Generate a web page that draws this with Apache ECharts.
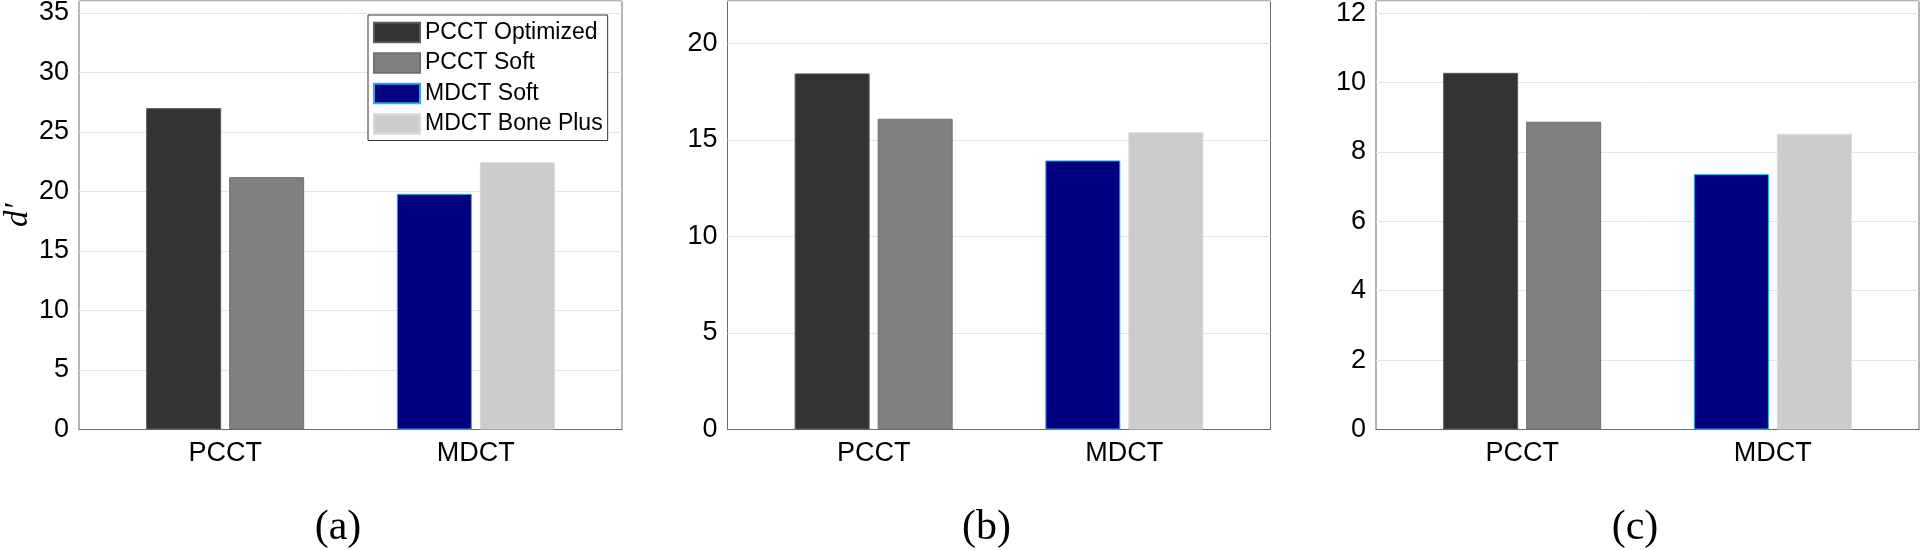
<!DOCTYPE html>
<html>
<head>
<meta charset="utf-8">
<script src="https://cdn.jsdelivr.net/npm/echarts@6/dist/echarts.min.js"></script>
<style>
html,body{margin:0;padding:0;background:#ffffff;}
#chart{width:1920px;height:550px;}
</style>
</head>
<body>
<div id="chart"></div>
<script>
// ---------------- data ----------------
const categories = ['PCCT', 'MDCT'];
const seriesNames = ['PCCT Optimized', 'PCCT Soft', 'MDCT Soft', 'MDCT Bone Plus'];
const panelLabels = ['(a)', '(b)', '(c)'];
// d' values for panels (a), (b), (c)
const pcctOptimized = [27.0, 18.45, 10.28];
const pcctSoft      = [21.2, 16.1, 8.87];
const mdctSoft      = [19.8, 13.94, 7.36];
const mdctBonePlus  = [22.45, 15.4, 8.52];
// y-axis ranges and tick steps per panel
const yMax  = [36, 22.2, 12.35];
const yStep = [5, 5, 2];
const yAxisName = 'd\u2032';

// ---------------- styling / layout ----------------
const seriesDefs = [
  { name: seriesNames[0], values: pcctOptimized, cat: 0, stack: 'left',  color: '#333333', border: '#5a5a5a' },
  { name: seriesNames[1], values: pcctSoft,      cat: 0, stack: 'right', color: '#808080', border: '#6f6f6f' },
  { name: seriesNames[2], values: mdctSoft,      cat: 1, stack: 'left',  color: '#000080', border: '#2aa8f0' },
  { name: seriesNames[3], values: mdctBonePlus,  cat: 1, stack: 'right', color: '#cccccc', border: '#d9d9d9' }
];
const gridLefts = [79, 727.5, 1376];
const gridWidth = 543;
const gridTop = 1;
const gridHeight = 428.5;
const xMin = 0.417, xMax = 2.583;
const sans = 'Liberation Sans';
const serif = 'Liberation Serif';
const frameColor = '#6a6a6a';
const textColor = '#000000';

const grids = [], xAxes = [], yAxes = [], series = [], graphics = [];
panelLabels.forEach((label, p) => {
  grids.push({
    left: gridLefts[p], top: gridTop, width: gridWidth, height: gridHeight,
    show: true, borderColor: frameColor, borderWidth: 1, backgroundColor: 'transparent',
    containLabel: false, outerBoundsMode: 'none'
  });
  xAxes.push({
    gridIndex: p, type: 'value', min: xMin, max: xMax,
    axisLine: { show: true, lineStyle: { color: frameColor, width: 1 } },
    axisTick: { show: false },
    splitLine: { show: false },
    axisLabel: {
      customValues: categories.map((c, i) => i + 1),
      formatter: v => categories[Math.round(v) - 1] || '',
      fontSize: 27, fontFamily: sans, color: textColor, margin: 11
    }
  });
  const step = yStep[p];
  yAxes.push({
    gridIndex: p, type: 'value', min: 0, max: yMax[p], interval: step,
    axisLine: { show: false }, axisTick: { show: false },
    splitLine: { show: true, lineStyle: { color: '#e4e4e4', width: 1 } },
    axisLabel: {
      fontSize: 27, fontFamily: sans, color: textColor, margin: 10,
      formatter: v => (Math.abs(v / step - Math.round(v / step)) < 1e-6 ? String(Math.round(v)) : '')
    },
    name: p === 0 ? yAxisName : '',
    nameLocation: 'middle', nameGap: 44,
    nameTextStyle: { fontFamily: serif, fontStyle: 'italic', fontSize: 33, color: textColor }
  });
  seriesDefs.forEach(d => {
    series.push({
      type: 'bar', name: d.name, xAxisIndex: p, yAxisIndex: p,
      stack: 'p' + p + d.stack,
      barWidth: 75, barGap: '10.7%',
      data: categories.map((c, i) => [i + 1, i === d.cat ? d.values[p] : '-']),
      itemStyle: { color: d.color, borderColor: d.border, borderWidth: 1 },
      emphasis: { disabled: true }
    });
  });
  graphics.push({
    type: 'text', x: gridLefts[p] + 259, y: 528,
    style: {
      text: label, fill: '#000000', fontSize: 42, fontFamily: serif,
      align: 'center', verticalAlign: 'middle', textAlign: 'center', textVerticalAlign: 'middle'
    }
  });
});

const chart = echarts.init(document.getElementById('chart'), null, { renderer: 'canvas' });
chart.setOption({
  animation: false,
  backgroundColor: '#ffffff',
  grid: grids,
  xAxis: xAxes,
  yAxis: yAxes,
  legend: {
    data: seriesNames, orient: 'vertical', left: 368, top: 15,
    padding: [6, 5, 5, 5], itemWidth: 46, itemHeight: 19.6, itemGap: 7.5,
    icon: 'rect', selectedMode: false,
    textStyle: { fontSize: 23, fontFamily: sans, color: '#000000', lineHeight: 20 },
    borderColor: '#333333', borderWidth: 1, backgroundColor: '#ffffff', borderRadius: 0
  },
  graphic: graphics,
  series: series
});
</script>
</body>
</html>
